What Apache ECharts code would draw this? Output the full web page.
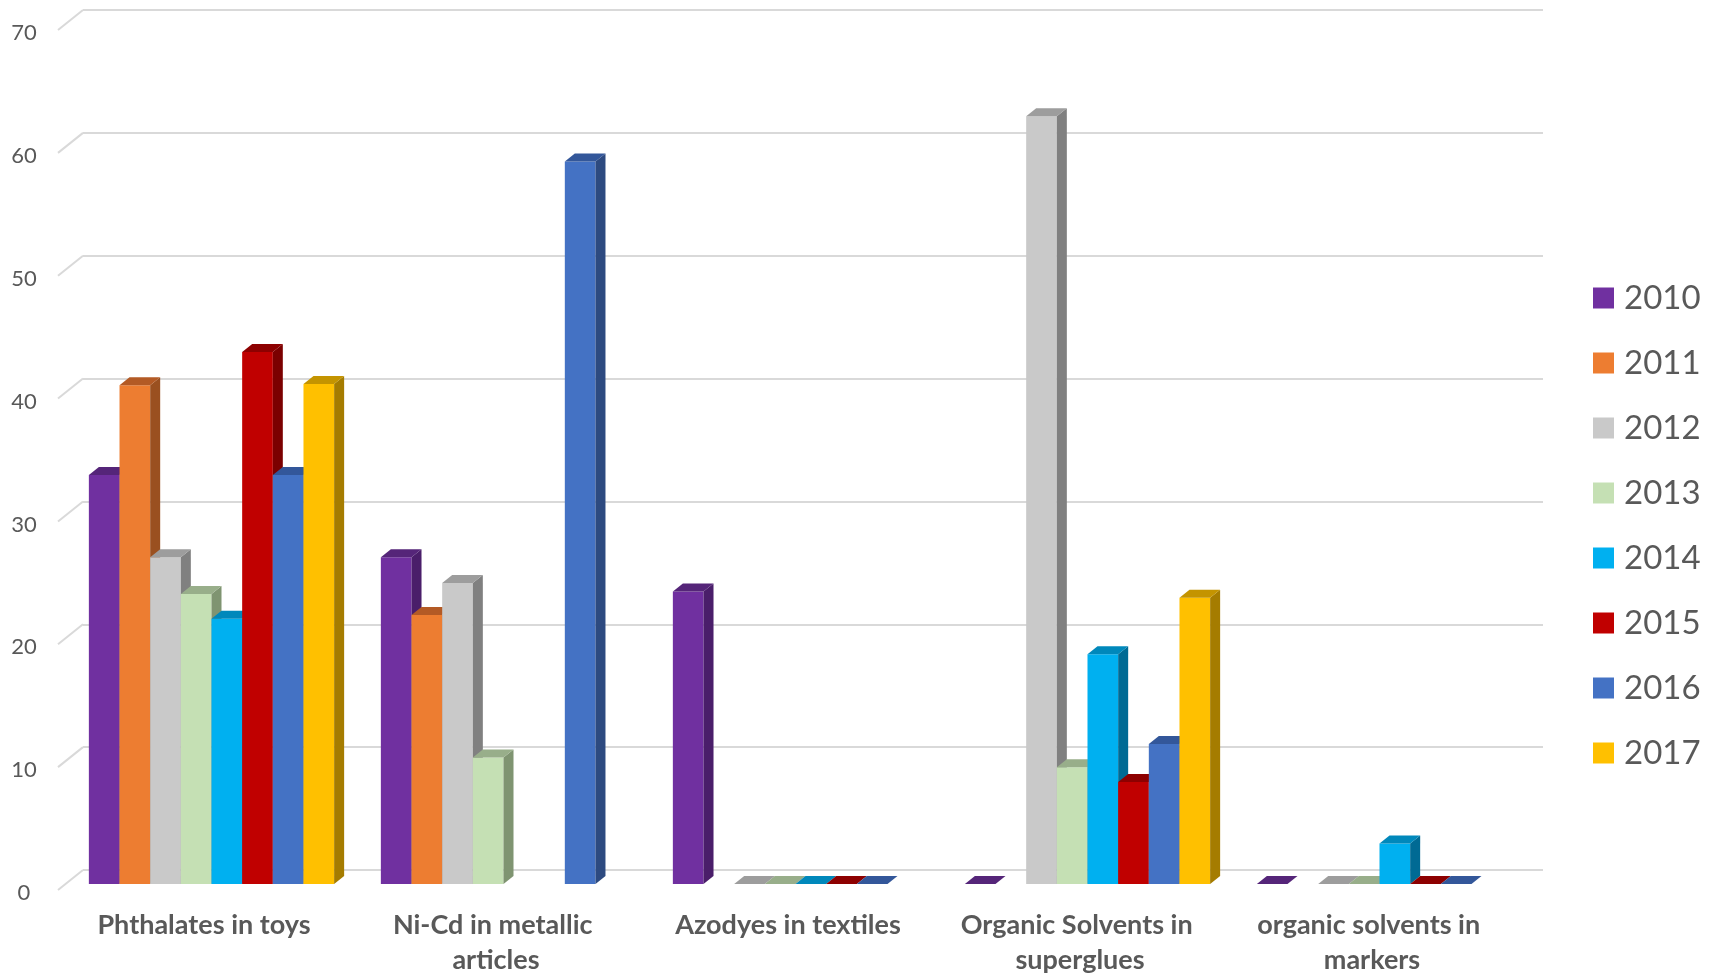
<!DOCTYPE html>
<html>
<head>
<meta charset="utf-8">
<script src="https://cdn.jsdelivr.net/npm/echarts@6/dist/echarts.min.js"></script>
<style>
html,body{margin:0;padding:0;background:#fff;}
#chart{width:1714px;height:977px;}
</style>
</head>
<body>
<div id="chart"></div>
<script>
const categories = ['Phthalates in toys', 'Ni-Cd in metallic articles', 'Azodyes in textiles', 'Organic Solvents in superglues', 'organic solvents in markers'];
const years = ['2010', '2011', '2012', '2013', '2014', '2015', '2016', '2017'];
const s2010 = [33.3, 26.6, 23.8, 0, 0];
const s2011 = [40.6, 21.9, null, null, null];
const s2012 = [26.6, 24.5, 0, 62.5, 0];
const s2013 = [23.6, 10.3, 0, 9.5, 0];
const s2014 = [21.6, null, 0, 18.7, 3.3];
const s2015 = [43.3, null, 0, 8.3, 0];
const s2016 = [33.3, 58.8, 0, 11.4, 0];
const s2017 = [40.7, null, null, 23.3, null];
const yTicks = [0, 10, 20, 30, 40, 50, 60, 70];

const seriesValues = [s2010, s2011, s2012, s2013, s2014, s2015, s2016, s2017];
const colors = ['#7030A0', '#ED7D31', '#C9C9C9', '#C5E0B4', '#00B0F0', '#C00000', '#4472C4', '#FFC000'];
const sideColors = ['#4A1E6A', '#9A5020', '#808080', '#7F9471', '#006A94', '#7B0000', '#2D4A80', '#A57C00'];
const topColors = ['#552579', '#B35A25', '#9D9D9D', '#98AE8A', '#0088BB', '#8D0000', '#33579A', '#C49400'];

const DX = 10, DY = -8;       // bar depth offset
const GAP = 0.16;              // category gap fraction
const FONT = 'Lato, "Open Sans", sans-serif';

function barRenderer(s) {
  return function (params, api) {
    const cat = api.value(0), val = api.value(1);
    const bandW = api.size([1, 0])[0];
    const groupW = bandW * (1 - GAP);
    const barW = groupW / years.length;
    const base = api.coord([cat, 0]);
    const topP = api.coord([cat, val]);
    const x0 = base[0] - groupW / 2 + s * barW;
    const yB = base[1], yT = topP[1];
    const children = [];
    if (yB - yT > 0.5) {
      children.push({
        type: 'rect', shape: { x: x0, y: yT, width: barW, height: yB - yT },
        style: { fill: colors[s] }
      });
      children.push({
        type: 'polygon',
        shape: { points: [[x0 + barW, yT], [x0 + barW + DX, yT + DY], [x0 + barW + DX, yB + DY], [x0 + barW, yB]] },
        style: { fill: sideColors[s] }
      });
    }
    children.push({
      type: 'polygon',
      shape: { points: [[x0, yT], [x0 + DX, yT + DY], [x0 + barW + DX, yT + DY], [x0 + barW, yT]] },
      style: { fill: topColors[s] }
    });
    return { type: 'group', children: children };
  };
}

const barSeries = seriesValues.map((arr, s) => ({
  name: years[s],
  type: 'custom',
  xAxisIndex: 0, yAxisIndex: 0,
  renderItem: barRenderer(s),
  itemStyle: { color: colors[s] },
  data: arr.map((v, i) => (v === null ? null : [i, v])).filter(d => d !== null),
  clip: false,
  z: 10 + s
}));

const diagSeries = {
  type: 'custom',
  xAxisIndex: 1, yAxisIndex: 1,
  silent: true,
  renderItem: function (params, api) {
    const c = api.coord([0, api.value(1)]);
    const half = api.size([1, 0])[0] / 2;
    const x = c[0] - half;
    return {
      type: 'line',
      shape: { x1: x, y1: c[1], x2: x - 25, y2: c[1] + 20 },
      style: { stroke: '#D9D9D9', lineWidth: 2 }
    };
  },
  data: yTicks.map(v => [0, v]),
  clip: false,
  z: 2
};

const option = {
  animation: false,
  backgroundColor: '#ffffff',
  textStyle: { fontFamily: FONT },
  grid: [
    { left: 65.5, right: 188.5, top: 24, bottom: 93, outerBoundsMode: 'none' },   // bar front plane
    { left: 83, right: 171, top: 10, bottom: 107, outerBoundsMode: 'none' },      // back wall
    { left: 58, right: 196, top: 30, bottom: 87, outerBoundsMode: 'none' },       // front edge (category labels)
    { left: 58, right: 196, top: 33, bottom: 84, outerBoundsMode: 'none' }        // value labels
  ],
  xAxis: [
    { gridIndex: 0, type: 'category', data: categories, show: false },
    { gridIndex: 1, type: 'category', data: categories, show: false },
    {
      gridIndex: 2, type: 'category', data: categories,
      axisLine: { show: false }, axisTick: { show: false },
      axisLabel: {
        interval: 0, margin: 18, fontSize: 27, fontWeight: 'bold', color: '#595959',
        lineHeight: 35, width: 262, overflow: 'break', fontFamily: FONT
      }
    },
    { gridIndex: 3, type: 'category', data: categories, show: false }
  ],
  yAxis: [
    { gridIndex: 0, type: 'value', min: 0, max: 70, interval: 10, show: false },
    {
      gridIndex: 1, type: 'value', min: 0, max: 70, interval: 10,
      axisLine: { show: false }, axisTick: { show: false }, axisLabel: { show: false },
      splitLine: { show: true, lineStyle: { color: '#D9D9D9', width: 2 } }
    },
    { gridIndex: 2, type: 'value', min: 0, max: 70, interval: 10, show: false },
    {
      gridIndex: 3, type: 'value', min: 0, max: 70, interval: 10,
      axisLine: { show: false }, axisTick: { show: false }, splitLine: { show: false },
      axisLabel: { margin: 34, align: 'center', fontSize: 22, color: '#595959', fontFamily: FONT }
    }
  ],
  legend: {
    orient: 'vertical', left: 1588, top: 273,
    data: years, icon: 'rect', itemWidth: 21, itemHeight: 21, itemGap: 25,
    textStyle: { fontSize: 33, color: '#595959', lineHeight: 40, fontFamily: FONT, padding: [0, 0, 0, 5] }
  },
  series: [diagSeries].concat(barSeries)
};

const chart = echarts.init(document.getElementById('chart'), null, { renderer: 'canvas' });
chart.setOption(option);
</script>
</body>
</html>
